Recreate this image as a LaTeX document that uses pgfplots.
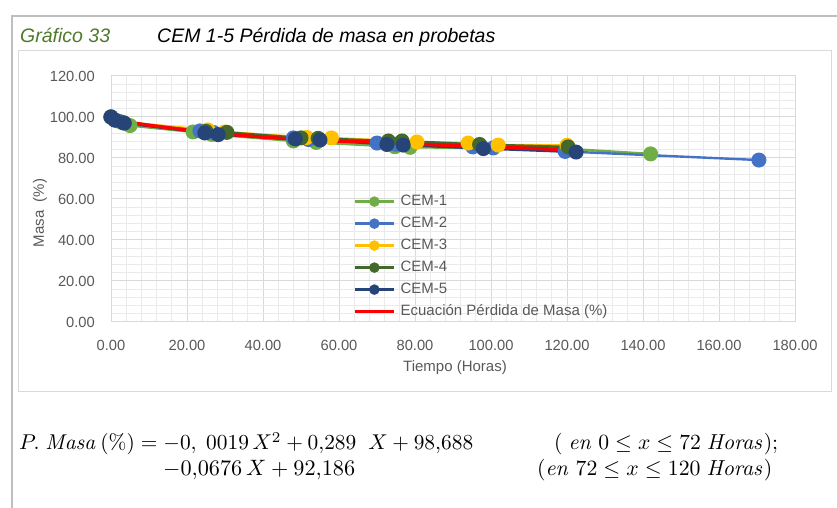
\documentclass[border=0pt]{standalone}
\usepackage[no-math]{fontspec}
\setmainfont{Liberation Sans}
\usepackage{graphicx}
\usepackage{pgfplots}
\pgfplotsset{compat=1.18}

\definecolor{cemA}{HTML}{70AD47}
\definecolor{cemB}{HTML}{4472C4}
\definecolor{cemC}{HTML}{FFC000}
\definecolor{cemD}{HTML}{43682B}
\definecolor{cemE}{HTML}{264478}
\definecolor{eqred}{HTML}{FF0000}
\definecolor{textgray}{HTML}{595959}
\definecolor{gridmaj}{HTML}{D9D9D9}
\definecolor{gridmin}{HTML}{EAEAEA}
\definecolor{boxgray}{HTML}{D9D9D9}
\definecolor{framegray}{HTML}{BFBFBF}
\definecolor{titlegreen}{HTML}{4F7A2C}

\begin{document}
\begin{tikzpicture}
\path[use as bounding box] (0pt,0pt) rectangle (837pt,508pt);

% page frame and chart box
\draw[color=framegray, line width=1.2pt] (12pt,0pt) -- (12pt,492pt) -- (837pt,492pt);
\draw[color=boxgray, line width=1pt] (18pt,116pt) rectangle (831pt,457pt);

% caption
\node[anchor=base west, inner sep=0pt, font=\fontsize{19.5}{22}\selectfont\itshape, text=titlegreen]
  at (20pt,465pt) {Gráfico 33};
\node[anchor=base west, inner sep=0pt, font=\fontsize{19.5}{22}\selectfont\itshape, text=black]
  at (157pt,465pt) {CEM 1-5 Pérdida de masa en probetas};

\begin{axis}[
  at={(111pt,186pt)}, anchor=south west,
  scale only axis, width=684pt, height=246pt,
  xmin=0, xmax=180, ymin=0, ymax=120,
  xtick={0,20,...,180}, ytick={0,20,...,120},
  minor x tick num=4, minor y tick num=4,
  grid=both,
  major grid style={color=gridmaj, line width=1pt},
  minor grid style={color=gridmin, line width=0.8pt},
  axis line style={color=gridmaj, line width=1pt},
  tick style={draw=none},
  /pgf/number format/.cd, fixed, fixed zerofill, precision=2, assume math mode=true,
  /pgfplots/.cd,
  tick label style={font=\fontsize{14.7}{17}\selectfont, text=textgray, inner sep=0pt},
  yticklabel style={anchor=east, xshift=-16pt},
  xticklabel style={anchor=north, yshift=-18pt},
  clip=false,
  legend cell align=left,
  legend style={at={(axis description cs:0.3538,0.5187)}, anchor=north west,
    draw=none, fill=none, inner sep=0pt,
    font=\fontsize{15}{18}\selectfont, text=textgray,
    row sep=8pt, column sep=5pt,
    nodes={inner sep=0pt, text height=11pt, text depth=3pt}},
  legend image code/.code={
    \draw[mark repeat=2, mark phase=2, #1, mark size=4pt]
      plot coordinates {(0pt,0pt) (19.5pt,0pt) (39pt,0pt)};},
  every axis plot/.append style={line width=2.4pt, mark=*, mark size=6.3pt},
]

\addplot[color=cemA, mark options={fill=cemA, draw=cemA}] coordinates {
  (0,100) (1,98.5) (5,95.8) (21.6,92.7) (26.5,91.5) (48,88.3) (54,87.6)
  (74.7,85.5) (78.7,85.2) (120,84.5) (142,82.0)};
\addlegendentry{CEM-1}

\addplot[color=cemB, mark options={fill=cemB, draw=cemB}] coordinates {
  (0,100) (2,98) (23.4,93.2) (27,92.4) (48,89.8) (52,89.0) (70,87.3)
  (75,86.7) (95.2,85.4) (100.6,84.9) (119.5,83.2) (170.5,79.0)};
\addlegendentry{CEM-2}

\addplot[color=cemC, mark options={fill=cemC, draw=cemC}] coordinates {
  (0,100) (3,97.5) (25.5,93.7) (30,92.7) (51.5,90.0) (58,89.8)
  (80.5,87.8) (94,87.3) (101.9,86.3) (120,86.2)};
\addlegendentry{CEM-3}

\addplot[color=cemD, mark options={fill=cemD, draw=cemD}] coordinates {
  (0,100) (3,97.3) (25,93.0) (30.5,92.5) (50,89.8) (54.5,89.6)
  (73,88.3) (76.6,88.3) (97,86.6) (120.3,85.4)};
\addlegendentry{CEM-4}

\addplot[color=cemE, mark options={fill=cemE, draw=cemE}] coordinates {
  (0,100) (1,98.5) (3.5,97.0) (24.7,92.2) (28.2,91.4) (48.5,89.3) (55,88.8)
  (72.6,86.6) (76.9,86.3) (98,84.6) (122.4,82.9)};
\addlegendentry{CEM-5}

% fitted mass-loss equation (quadratic up to 72 h, linear from 72 to 120 h)
\addplot[color=eqred, line width=3.4pt, no marks] coordinates {
  (0,98.688) (5,97.2905) (10,95.988) (15,94.7805) (20,93.668) (25,92.6505)
  (30,91.728) (40,90.168) (50,88.988) (60,88.188) (72,87.7296)
  (72,87.3188) (120,84.074)};
\addlegendentry{Ecuación Pérdida de Masa (\%)}
\end{axis}

% axis titles
\node[rotate=90, font=\fontsize{15}{18}\selectfont, text=textgray] at (40pt,295pt) {Masa\ \ (\%)};
\node[font=\fontsize{15}{18}\selectfont, text=textgray] at (455pt,140pt) {Tiempo (Horas)};

% equations below the chart
\node[anchor=base west, inner sep=0pt]
  at (19pt,58pt) {\resizebox{454pt}{!}{$P.\ \mathit{Masa}\,(\%) = -0,\ 0019\,X^2 + 0{,}289\ \ X + 98{,}688$}};
\node[anchor=base west, inner sep=0pt]
  at (554pt,58pt) {\resizebox{224pt}{!}{$(\ \mathit{en}\ 0 \le x \le 72\ \mathit{Horas});$}};
\node[anchor=base west, inner sep=0pt]
  at (163pt,32pt) {\resizebox{192pt}{!}{$-0{,}0676\,X + 92{,}186$}};
\node[anchor=base west, inner sep=0pt]
  at (537pt,32pt) {\resizebox{235pt}{!}{$(\mathit{en}\ 72 \le x \le 120\ \mathit{Horas})$}};
\end{tikzpicture}
\end{document}
